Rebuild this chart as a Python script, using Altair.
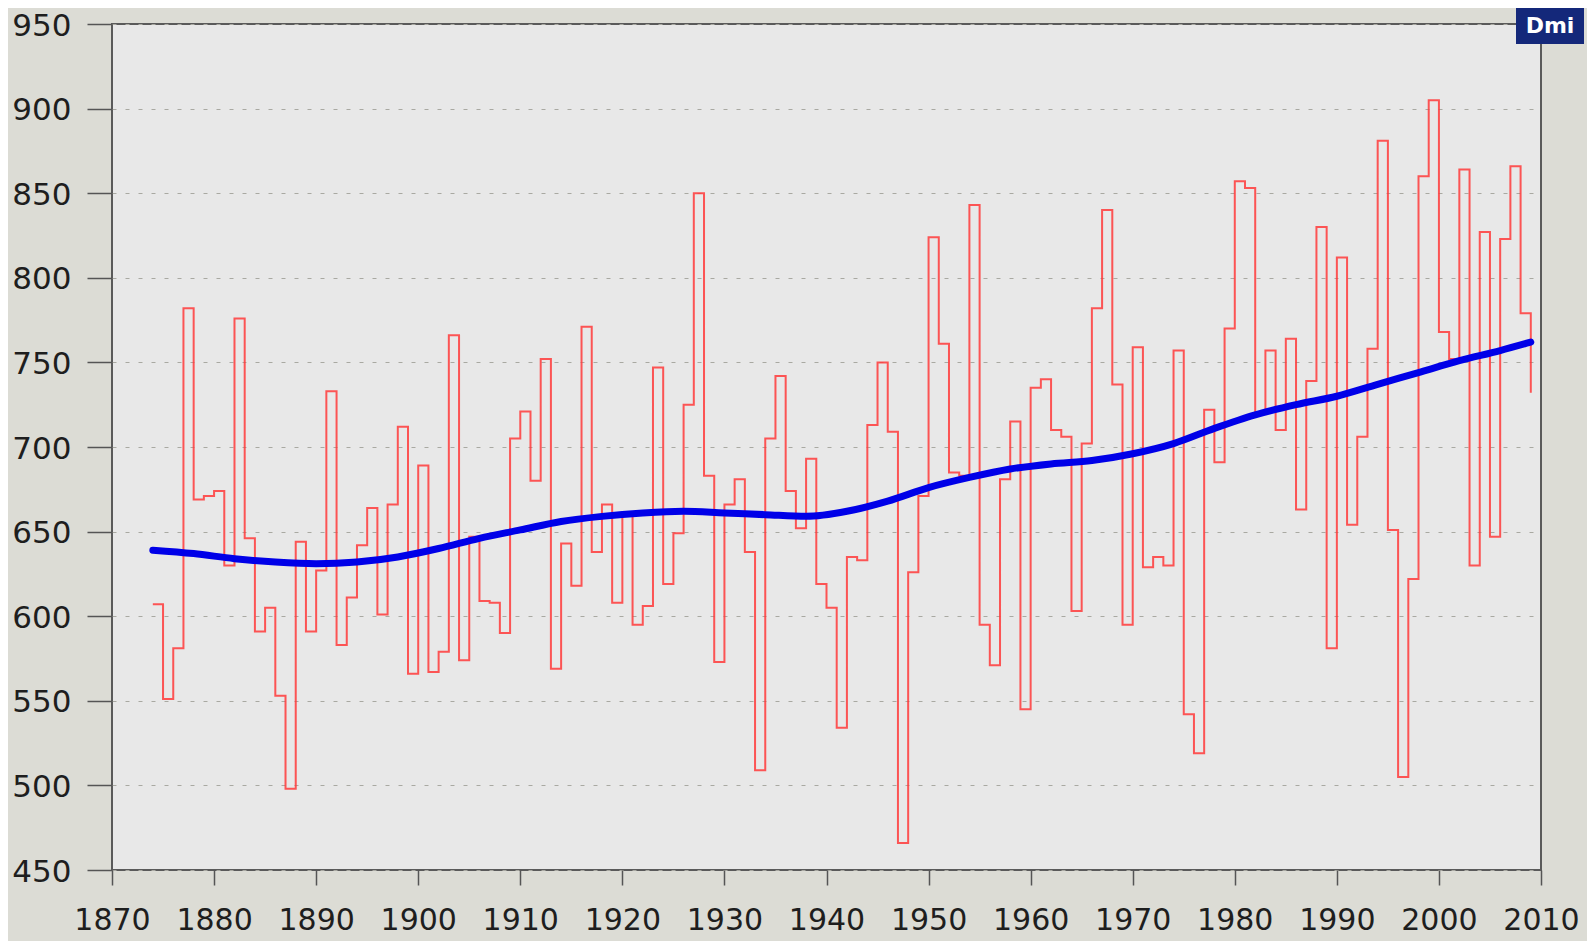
import altair as alt
import pandas as pd

# Annual values (mm), 1874-2009
years = list(range(1874, 2010))
values = [
    607, 551, 581, 782, 669, 671,                      # 1874-1879
    674, 630, 776, 646, 591, 605, 553, 498, 644, 591,  # 1880-1889
    627, 733, 583, 611, 642, 664, 601, 666, 712, 566,  # 1890-1899
    689, 567, 579, 766, 574, 647, 609, 608, 590, 705,  # 1900-1909
    721, 680, 752, 569, 643, 618, 771, 638, 666, 608,  # 1910-1919
    660, 595, 606, 747, 619, 649, 725, 850, 683, 573,  # 1920-1929
    666, 681, 638, 509, 705, 742, 674, 652, 693, 619,  # 1930-1939
    605, 534, 635, 633, 713, 750, 709, 466, 626, 671,  # 1940-1949
    824, 761, 685, 683, 843, 595, 571, 681, 715, 545,  # 1950-1959
    735, 740, 710, 706, 603, 702, 782, 840, 737, 595,  # 1960-1969
    759, 629, 635, 630, 757, 542, 519, 722, 691, 770,  # 1970-1979
    857, 853, 720, 757, 710, 764, 663, 739, 830, 581,  # 1980-1989
    812, 654, 706, 758, 881, 651, 505, 622, 860, 905,  # 1990-1999
    768, 752, 864, 630, 827, 647, 823, 866, 779, 732,  # 2000-2009
]

# Smoothed trend (blue curve) read at a few years
trend_years = [1874, 1878, 1882, 1886, 1890, 1894, 1898, 1902, 1906, 1910,
               1914, 1918, 1922, 1926, 1930, 1934, 1938, 1942, 1946, 1950,
               1954, 1958, 1962, 1966, 1970, 1974, 1978, 1982, 1986, 1990,
               1994, 1998, 2002, 2006, 2009]
trend_values = [639, 637, 634, 632, 631, 632, 635, 640, 646, 651,
                656, 659, 661, 662, 661, 660, 659, 662, 668, 676,
                682, 687, 690, 692, 696, 702, 711, 719, 725, 730,
                737, 744, 751, 757, 762]

x_ticks = list(range(1870, 2011, 10))
y_ticks = list(range(450, 951, 50))

df = pd.DataFrame({"year": years, "value": values})
tdf = pd.DataFrame({"year": trend_years, "value": trend_values})

FONT = "DejaVu Sans"

x_scale = alt.Scale(domain=[1870, 2010], nice=False, zero=False)
y_scale = alt.Scale(domain=[450, 950], nice=False, zero=False)

x_axis = alt.Axis(values=x_ticks, format="d", title=None, grid=False, domain=False,
                  tickSize=15, tickColor="#555555", tickWidth=1.5,
                  labelFontSize=30, labelFont=FONT, labelColor="#1e1e1e",
                  labelPadding=20, labelFlush=False, labelOverlap=False)
y_axis = alt.Axis(values=y_ticks, title=None, grid=True, domain=False,
                  tickSize=25, tickColor="#555555", tickWidth=1.5,
                  labelFontSize=31, labelFont=FONT, labelColor="#1e1e1e",
                  labelPadding=16, labelOverlap=False, labelOffset=2, labelFlush=False,
                  gridColor="#a9a9a2", gridDash=[4, 9], gridWidth=1.2)

red = alt.Chart(df).mark_line(
    interpolate="step-after", color="#ff3a3a", strokeWidth=2.0, opacity=0.85
).encode(
    x=alt.X("year:Q", scale=x_scale, axis=x_axis),
    y=alt.Y("value:Q", scale=y_scale, axis=y_axis),
)

blue = alt.Chart(tdf).mark_line(
    interpolate="monotone", color="#0000e8", strokeWidth=7, strokeCap="round"
).encode(
    x=alt.X("year:Q", scale=x_scale),
    y=alt.Y("value:Q", scale=y_scale),
)

logo_df = pd.DataFrame({"label": ["Dmi"]})
logo_box = alt.Chart(logo_df).mark_rect(color="#14287a").encode(
    x=alt.value(1404), x2=alt.value(1472), y=alt.value(-16), y2=alt.value(20)
)
logo_text = alt.Chart(logo_df).mark_text(
    color="white", fontSize=22, fontWeight="bold", font=FONT, align="center", baseline="middle"
).encode(x=alt.value(1438), y=alt.value(2), text="label:N")

chart = alt.layer(red, blue, logo_box, logo_text).properties(
    width=1429, height=846,
    autosize=alt.AutoSizeParams(type="none"),
    padding={"left": 104, "top": 16, "right": 46, "bottom": 71},
    background="#dcdcd5",
).configure_view(
    fill="#e8e8e8", stroke="#5a5a5a", strokeWidth=2
)

chart.save("out.html", embed_options={"renderer": "svg", "actions": False})
